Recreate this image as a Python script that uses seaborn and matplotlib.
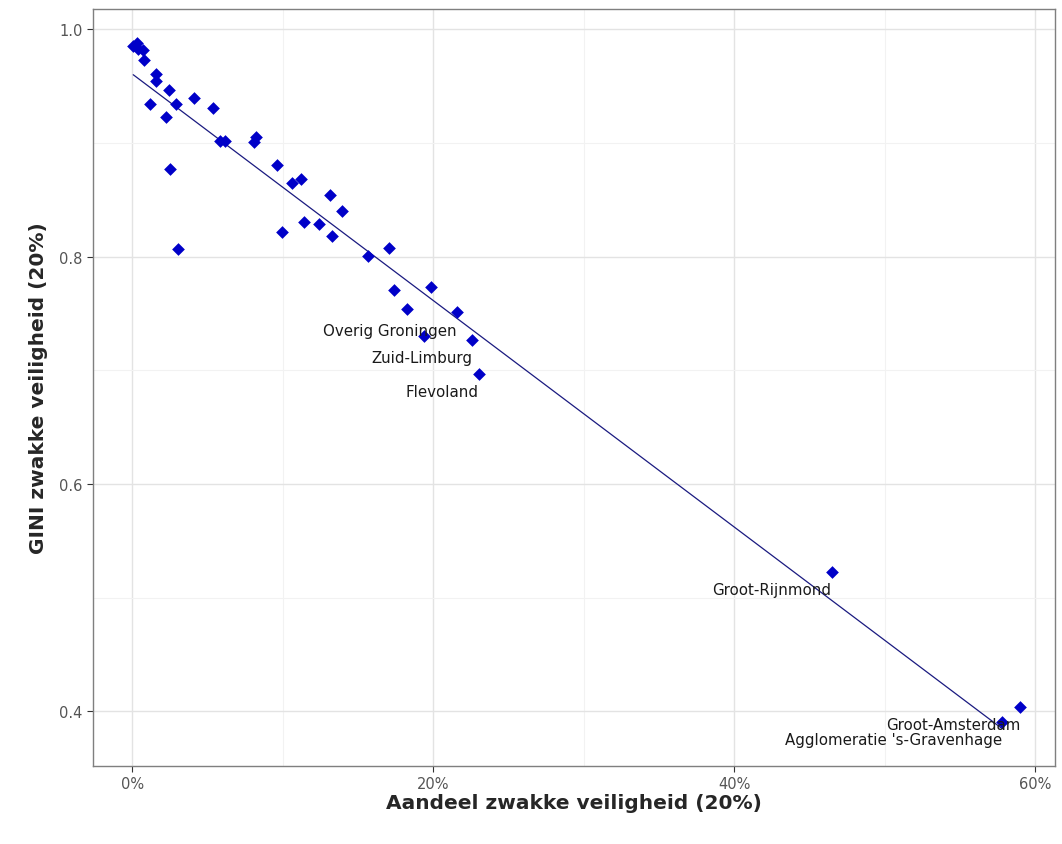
import numpy as np
import pandas as pd
import matplotlib
matplotlib.use("Agg")
import matplotlib.pyplot as plt
import seaborn as sns
from matplotlib.ticker import FuncFormatter, MultipleLocator

# Aandeel zwakke veiligheid (%) and GINI per region
aandeel = [0.07, 0.33, 0.40, 0.73, 0.80, 1.59, 1.59, 1.19, 2.46, 2.92,
           2.26, 4.12, 5.38, 5.84, 6.17, 8.10, 8.23, 2.52, 3.05, 9.62,
           10.62, 11.22, 9.96, 11.42, 12.41, 13.14, 13.27, 13.94, 15.66, 17.06,
           17.39, 19.85, 18.25, 21.57, 19.38, 22.57, 23.03, 46.46, 59.0, 57.8]
gini = [0.985, 0.988, 0.983, 0.982, 0.973, 0.961, 0.955, 0.934, 0.947, 0.934,
        0.923, 0.940, 0.931, 0.902, 0.902, 0.901, 0.905, 0.877, 0.807, 0.881,
        0.865, 0.868, 0.822, 0.831, 0.829, 0.854, 0.818, 0.840, 0.801, 0.808,
        0.771, 0.773, 0.754, 0.751, 0.730, 0.727, 0.697, 0.523, 0.404, 0.391]
regio = [""] * 33 + ["Overig Groningen", "", "Zuid-Limburg", "Flevoland",
                     "Groot-Rijnmond", "Groot-Amsterdam", "Agglomeratie 's-Gravenhage"]

df = pd.DataFrame({"aandeel": aandeel, "gini": gini, "regio": regio})

sns.set_style("white")
plt.rcParams['font.family'] = ['DejaVu Sans']

fig = plt.figure(figsize=(10.62, 8.45), dpi=100)
ax = fig.add_axes([0.0876, 0.0923, 0.9058, 0.8959])

# gridlines like theme_bw
ax.xaxis.set_major_locator(MultipleLocator(20))
ax.xaxis.set_minor_locator(MultipleLocator(10))
ax.yaxis.set_major_locator(MultipleLocator(0.2))
ax.yaxis.set_minor_locator(MultipleLocator(0.1))
ax.grid(which='major', color='#e3e3e3', linewidth=1.0)
ax.grid(which='minor', color='#f2f2f2', linewidth=0.8)
ax.set_axisbelow(True)

# the trend line in the original stops at the Agglomeratie point
fit = df[df["aandeel"] < df["aandeel"].max()]
sns.regplot(data=fit, x="aandeel", y="gini", ci=None, scatter=False, ax=ax,
            line_kws={"color": "#1a1a80", "linewidth": 0.9})
sns.scatterplot(data=df, x="aandeel", y="gini", marker="D", s=42,
                color="#0000c8", edgecolor="#0000c8", linewidth=0, ax=ax, zorder=3)

for _, r in df[df["regio"] != ""].iterrows():
    ax.annotate(r["regio"], (r["aandeel"], r["gini"]), xytext=(0, -13),
                textcoords="offset points", ha="right", va="center",
                fontsize=10.8, color="#1a1a1a")

ax.set_xlim(-2.6, 61.3)
ax.set_ylim(0.352, 1.018)
ax.xaxis.set_major_formatter(FuncFormatter(lambda v, p: f"{v:.0f}%"))
ax.yaxis.set_major_formatter(FuncFormatter(lambda v, p: f"{v:.1f}"))
ax.tick_params(axis='both', which='major', length=4, color='#333333',
               labelsize=10.5, labelcolor='#555555', bottom=True, left=True)
ax.tick_params(which='minor', length=0)
for s in ax.spines.values():
    s.set_color('#7f7f7f')
    s.set_linewidth(1.0)

ax.set_xlabel("Aandeel zwakke veiligheid (20%)", fontsize=14.5, fontweight='bold', labelpad=1)
ax.set_ylabel("GINI zwakke veiligheid (20%)", fontsize=14.5, fontweight='bold', labelpad=8)

fig.savefig("out.png", dpi=100)
